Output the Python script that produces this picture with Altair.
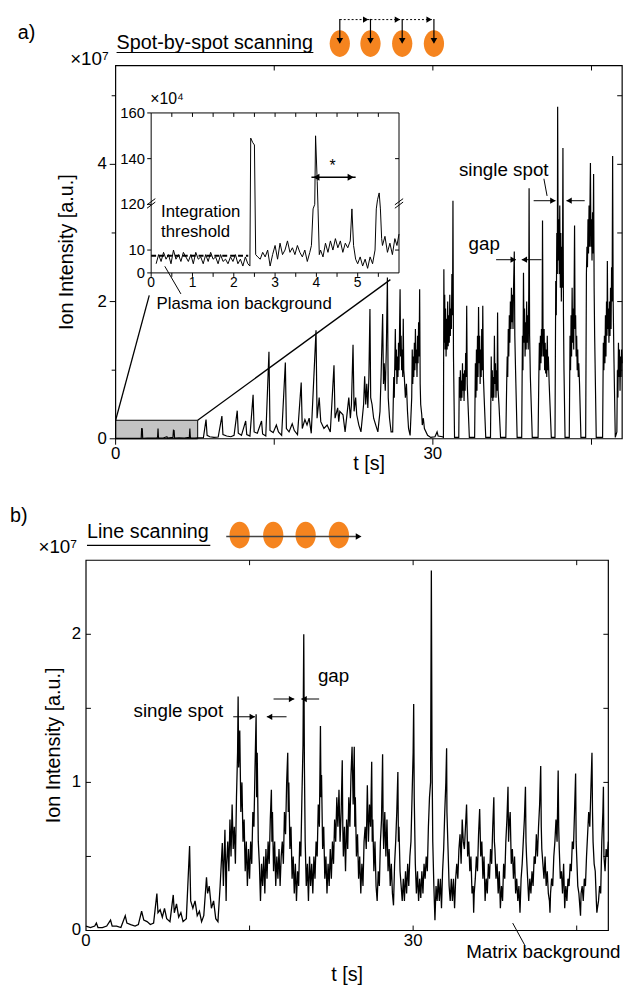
import altair as alt
import pandas as pd

FONT = "Liberation Sans"

# ---------------- data: panel a) spot-by-spot trace (t [s], intensity [x1e7 a.u.]) ----------------
a_gray = [(0, 0.005), (0.5, 0.006), (1.0, 0.005), (1.5, 0.006), (2.0, 0.005), (2.42, 0.006), (2.46, 0.148),
          (2.52, 0.146), (2.56, 0.01), (2.6, 0.008), (3.0, 0.009), (3.5, 0.01), (3.92, 0.012), (3.97, 0.03),
          (4.01, 0.15), (4.05, 0.02), (4.1, 0.009), (4.5, 0.011), (4.85, 0.03), (4.9, 0.01), (5.42, 0.02),
          (5.47, 0.125), (5.53, 0.12), (5.57, 0.02), (5.62, 0.01), (6.0, 0.012), (6.5, 0.011), (6.97, 0.02),
          (7.02, 0.15), (7.06, 0.03), (7.1, 0.012), (7.5, 0.01)]
a_early = [(7.76, 0.012), (8.3, 0.015), (8.55, 0.28), (8.65, 0.05), (8.9, 0.03), (9.3, 0.02), (9.7, 0.025),
           (10.05, 0.33), (10.15, 0.06), (10.5, 0.04), (10.9, 0.03), (11.2, 0.05), (11.5, 0.41), (11.6, 0.08),
           (11.9, 0.05), (12.3, 0.26), (12.4, 0.06), (12.7, 0.04), (13.0, 0.64), (13.1, 0.1), (13.4, 0.08),
           (13.8, 0.26), (13.9, 0.07), (14.2, 0.04), (14.5, 1.27), (14.6, 0.12), (14.9, 0.09), (15.2, 0.2),
           (15.4, 0.1), (15.7, 0.05), (16.05, 1.11), (16.15, 0.15), (16.4, 0.1), (16.7, 0.22), (16.9, 0.12),
           (17.2, 0.06), (17.55, 0.82), (17.65, 0.15), (17.9, 0.28), (18.1, 0.2), (18.3, 0.3), (18.5, 0.08),
           (18.95, 1.58), (19.05, 0.3), (19.25, 0.6), (19.4, 0.25), (19.7, 0.15), (20.0, 0.2), (20.3, 0.1),
           (20.65, 1.07), (20.75, 0.3), (21.0, 0.45), (21.1, 0.25), (21.2, 0.4), (21.5, 0.35), (21.7, 0.1),
           (22.05, 0.6), (22.2, 0.3), (22.3, 0.5), (22.45, 1.37), (22.55, 0.4), (22.7, 0.6), (22.8, 0.35),
           (23.0, 0.2), (23.2, 0.1), (23.45, 0.5), (23.55, 0.91), (23.65, 0.5), (23.75, 0.8), (23.85, 0.45),
           (23.95, 0.9), (24.05, 1.89), (24.12, 0.6), (24.25, 0.5), (24.4, 0.3), (24.6, 0.2), (24.8, 0.1),
           (25.0, 0.4), (25.1, 0.9), (25.25, 1.82), (25.33, 0.8), (25.4, 1.1), (25.5, 0.7), (25.6, 1.3),
           (25.7, 2.35), (25.78, 0.6), (25.9, 0.3), (26.05, 0.1), (26.2, 0.1), (26.3, 0.9), (26.35, 0.6),
           (26.45, 1.6), (26.5, 1.0), (26.55, 1.3), (26.6, 0.8), (26.65, 1.2), (26.7, 0.9), (26.75, 1.4),
           (26.8, 1.0), (26.85, 1.6), (26.9, 2.18), (26.95, 1.2), (27.0, 1.5), (27.05, 1.0), (27.1, 1.3),
           (27.15, 0.9), (27.2, 1.75), (27.25, 1.0), (27.3, 0.9), (27.4, 0.6), (27.5, 0.8), (27.6, 0.4),
           (27.7, 0.15), (27.85, 0.05), (28.0, 0.6), (28.05, 1.3), (28.1, 0.8), (28.15, 1.2), (28.2, 0.9),
           (28.25, 1.4), (28.3, 1.0), (28.35, 1.6), (28.4, 1.1), (28.45, 1.3), (28.5, 0.9), (28.55, 1.5),
           (28.6, 1.1), (28.65, 1.7), (28.7, 1.2), (28.75, 2.18), (28.8, 0.8), (28.85, 0.5), (28.95, 0.35),
           (29.0, 0.2), (29.1, 0.3), (29.2, 0.15), (29.5, 0.05), (29.8, 0.02), (30.2, 0.03), (30.4, 0.1),
           (30.5, 0.04), (30.9, 0.03)]
a_spots = [(31.0, 0.02), (31.04, 2.47), (31.08, 1.4), (31.12, 2.1), (31.16, 1.3), (31.2, 1.9), (31.25, 1.2),
           (31.3, 1.75), (31.35, 1.3), (31.4, 2.0), (31.45, 1.35), (31.5, 1.8), (31.55, 1.4), (31.6, 2.1),
           (31.65, 1.5), (31.7, 1.9), (31.75, 1.6), (31.8, 2.4), (31.86, 1.8), (31.9, 3.47), (31.95, 1.2),
           (32.05, 0.02), (32.45, 0.02), (32.5, 0.9), (32.55, 0.6), (32.6, 1.0), (32.65, 0.55), (32.7, 0.85),
           (32.75, 0.6), (32.8, 1.1), (32.85, 0.7), (32.9, 0.95), (32.95, 0.55), (33.0, 1.0), (33.05, 0.7),
           (33.1, 1.25), (33.15, 0.9), (33.2, 1.94), (33.25, 0.8), (33.3, 0.6), (33.45, 0.02), (33.95, 0.02),
           (34.02, 1.1), (34.07, 0.6), (34.12, 1.3), (34.17, 0.7), (34.22, 1.5), (34.27, 0.9), (34.32, 1.92),
           (34.37, 1.1), (34.42, 1.5), (34.47, 0.8), (34.52, 1.3), (34.57, 0.9), (34.62, 1.6), (34.67, 1.0),
           (34.72, 1.94), (34.78, 0.9), (34.85, 0.6), (35.0, 0.02), (35.45, 0.02), (35.52, 1.2), (35.57, 0.6),
           (35.62, 1.0), (35.67, 0.55), (35.72, 0.9), (35.77, 0.6), (35.82, 1.5), (35.87, 0.8), (35.92, 1.1),
           (35.97, 0.6), (36.02, 1.0), (36.07, 0.7), (36.12, 1.84), (36.17, 0.7), (36.25, 0.5), (36.4, 0.02),
           (36.9, 0.02), (36.98, 0.8), (37.03, 1.2), (37.08, 0.9), (37.13, 1.6), (37.18, 1.2), (37.23, 1.8),
           (37.28, 1.4), (37.33, 2.0), (37.38, 1.6), (37.43, 2.2), (37.48, 1.7), (37.53, 2.1), (37.58, 1.6),
           (37.63, 2.2), (37.7, 2.73), (37.75, 1.5), (37.82, 1.0), (37.97, 0.02), (38.4, 0.02), (38.47, 1.5),
           (38.52, 1.0), (38.57, 2.42), (38.62, 1.4), (38.67, 1.9), (38.72, 1.2), (38.77, 1.7), (38.82, 1.3),
           (38.87, 2.0), (38.92, 1.4), (38.97, 1.8), (39.02, 1.3), (39.07, 2.2), (39.1, 3.65), (39.15, 1.5),
           (39.22, 0.9), (39.4, 0.02), (39.95, 0.02), (40.02, 0.9), (40.07, 1.4), (40.12, 1.0), (40.17, 1.5),
           (40.22, 1.1), (40.27, 1.6), (40.32, 1.2), (40.37, 3.18), (40.42, 1.5), (40.47, 1.2), (40.52, 1.6),
           (40.57, 1.0), (40.62, 1.4), (40.67, 0.95), (40.72, 1.3), (40.77, 0.9), (40.82, 1.5), (40.87, 1.0),
           (40.92, 1.2), (41.0, 0.8), (41.2, 0.02), (41.55, 0.02), (41.62, 2.3), (41.67, 1.8), (41.72, 3.0),
           (41.77, 2.4), (41.8, 4.84), (41.85, 2.6), (41.9, 3.2), (41.95, 2.4), (42.0, 3.4), (42.05, 2.2),
           (42.1, 3.0), (42.15, 2.0), (42.2, 2.8), (42.25, 2.2), (42.3, 4.24), (42.35, 1.8), (42.4, 1.0),
           (42.5, 0.02), (42.9, 0.02), (42.97, 1.5), (43.02, 1.0), (43.07, 1.8), (43.12, 1.2), (43.17, 2.2),
           (43.22, 1.4), (43.27, 1.9), (43.32, 1.3), (43.4, 3.11), (43.45, 1.6), (43.5, 1.8), (43.55, 1.2),
           (43.6, 1.5), (43.65, 1.0), (43.7, 1.3), (43.75, 0.9), (43.8, 1.1), (43.87, 0.8), (44.0, 0.02),
           (44.45, 0.02), (44.52, 2.4), (44.57, 2.8), (44.62, 2.5), (44.67, 3.2), (44.72, 2.7), (44.77, 3.4),
           (44.82, 2.8), (44.87, 3.6), (44.9, 4.02), (44.95, 2.8), (45.0, 3.2), (45.05, 2.6), (45.1, 3.3),
           (45.15, 2.7), (45.2, 3.86), (45.25, 2.2), (45.3, 1.5), (45.45, 0.02), (46.05, 0.02), (46.12, 1.4),
           (46.17, 1.0), (46.22, 1.5), (46.27, 1.1), (46.32, 1.8), (46.37, 1.2), (46.42, 2.0), (46.47, 1.5),
           (46.5, 2.59), (46.55, 1.6), (46.6, 1.9), (46.65, 1.4), (46.7, 2.0), (46.75, 1.5), (46.8, 2.2),
           (46.85, 1.6), (46.9, 2.5), (46.95, 2.0), (47.0, 4.12), (47.05, 2.0), (47.12, 1.2), (47.25, 0.02),
           (47.4, 0.1), (47.45, 1.0), (47.5, 0.6), (47.55, 1.4), (47.6, 0.9), (47.65, 1.3), (47.7, 0.7),
           (47.75, 1.2), (47.8, 0.9), (47.85, 1.3), (47.9, 1.1)]

# ---------------- inset: first seconds (t [s], intensity [x1e4 a.u.]) ----------------
inset_trace = [(0.12, 4), (0.18, 8), (0.24, 5), (0.3, 9), (0.36, 6), (0.42, 8), (0.48, 4), (0.54, 10), (0.6, 6),
               (0.66, 8), (0.72, 5), (0.78, 9), (0.84, 7), (0.9, 5), (0.96, 8), (1.02, 4), (1.08, 9), (1.14, 6),
               (1.2, 7), (1.26, 4), (1.32, 8), (1.38, 5), (1.44, 9), (1.5, 6), (1.56, 7), (1.62, 4), (1.68, 8),
               (1.74, 5), (1.8, 6), (1.86, 4), (1.92, 7), (1.98, 5), (2.04, 8), (2.1, 4), (2.16, 6), (2.22, 3),
               (2.28, 7), (2.34, 4), (2.39, 3), (2.41, 149), (2.46, 147), (2.5, 146), (2.53, 8), (2.58, 7),
               (2.64, 6), (2.7, 9), (2.76, 7), (2.82, 10), (2.88, 3), (2.94, 8), (3.0, 12), (3.06, 6), (3.12, 13),
               (3.18, 8), (3.24, 10), (3.3, 14), (3.36, 9), (3.42, 11), (3.48, 8), (3.54, 12), (3.6, 9), (3.66, 7),
               (3.72, 10), (3.78, 5), (3.84, 9), (3.88, 12), (3.92, 28), (3.96, 30), (3.98, 150), (4.02, 130),
               (4.04, 28), (4.07, 8), (4.1, 10), (4.16, 7), (4.22, 13), (4.28, 9), (4.34, 14), (4.4, 10),
               (4.46, 15), (4.52, 11), (4.58, 14), (4.64, 9), (4.7, 13), (4.76, 11), (4.82, 14), (4.86, 28),
               (4.9, 12), (4.95, 6), (5.0, 4), (5.06, 7), (5.12, 3), (5.18, 6), (5.24, 2), (5.3, 7), (5.36, 4),
               (5.42, 10), (5.45, 28), (5.48, 122), (5.52, 125), (5.55, 28), (5.58, 15), (5.6, 12), (5.66, 16),
               (5.72, 9), (5.78, 13), (5.84, 8), (5.9, 15), (5.95, 12), (6.0, 17)]

# ---------------- panel b) line scanning trace (t [s], intensity [x1e7 a.u.]) ----------------
b_start = [(0.0, 0.03), (0.4, 0.02), (0.8, 0.03), (0.95, 0.05), (1.1, 0.02), (1.5, 0.02), (1.9, 0.03),
           (2.25, 0.07), (2.4, 0.03), (2.8, 0.03), (3.2, 0.02), (3.6, 0.1), (3.75, 0.05), (4.1, 0.04),
           (4.5, 0.03), (4.8, 0.04), (5.1, 0.13), (5.3, 0.07), (5.6, 0.06), (5.9, 0.04), (6.2, 0.05),
           (6.5, 0.25), (6.6, 0.12), (6.8, 0.14), (7.0, 0.09), (7.2, 0.15), (7.4, 0.08), (7.7, 0.06),
           (8.0, 0.24), (8.1, 0.12), (8.3, 0.18), (8.5, 0.09), (8.7, 0.12), (8.9, 0.06), (9.2, 0.08),
           (9.5, 0.57), (9.6, 0.2), (9.8, 0.15), (10.0, 0.2), (10.2, 0.1), (10.4, 0.13), (10.6, 0.06),
           (10.8, 0.1), (11.05, 0.36), (11.15, 0.25), (11.3, 0.3), (11.5, 0.15), (11.7, 0.2), (11.9, 0.08),
           (12.1, 0.06), (12.3, 0.3), (12.5, 0.59), (12.6, 0.3), (12.74, 0.68), (12.85, 0.2)]
b_dense = [(12.9, 0.45), (13.0, 0.6), (13.1, 0.4), (13.2, 0.75), (13.3, 0.5), (13.4, 0.85), (13.5, 0.55),
           (13.6, 0.7), (13.7, 0.45), (13.8, 0.9), (13.9, 1.2), (13.95, 1.58), (14.0, 1.1), (14.1, 1.35),
           (14.2, 0.8), (14.3, 1.0), (14.4, 0.6), (14.5, 0.75), (14.6, 0.4), (14.7, 0.6), (14.8, 0.3),
           (14.9, 0.55), (15.0, 0.35), (15.1, 0.6), (15.2, 0.45), (15.3, 0.8), (15.4, 0.7), (15.5, 1.1),
           (15.6, 1.46), (15.65, 0.9), (15.7, 1.2), (15.8, 0.6), (15.9, 0.45), (16.0, 0.2), (16.1, 0.45),
           (16.2, 0.3), (16.3, 0.5), (16.4, 0.25), (16.5, 0.55), (16.6, 0.35), (16.7, 0.6), (16.8, 0.45),
           (16.9, 0.75), (17.0, 0.95), (17.05, 0.6), (17.1, 0.8), (17.2, 0.4), (17.3, 0.6), (17.4, 0.3),
           (17.5, 0.5), (17.6, 0.35), (17.7, 0.55), (17.8, 0.3), (17.9, 0.5), (18.0, 0.6), (18.1, 0.45),
           (18.2, 0.8), (18.3, 0.65), (18.4, 1.0), (18.5, 1.2), (18.55, 0.8), (18.6, 1.0), (18.7, 0.55),
           (18.8, 0.7), (18.9, 0.35), (19.0, 0.5), (19.1, 0.25), (19.2, 0.45), (19.3, 0.2), (19.4, 0.4),
           (19.5, 0.3), (19.6, 0.6), (19.7, 0.5), (19.8, 0.9), (19.9, 1.25), (19.97, 2.0), (20.03, 1.1),
           (20.1, 0.6), (20.2, 0.3), (20.3, 0.45), (20.4, 0.2), (20.5, 0.5), (20.6, 0.3), (20.7, 0.45),
           (20.8, 0.25), (20.9, 0.5), (21.0, 0.35), (21.1, 0.6), (21.2, 0.5), (21.3, 0.85), (21.4, 0.7),
           (21.5, 1.38), (21.55, 0.9), (21.6, 1.05), (21.7, 0.55), (21.8, 0.7), (21.9, 0.35), (22.0, 0.5),
           (22.1, 0.25), (22.2, 0.45), (22.3, 0.3), (22.4, 0.55), (22.5, 0.35), (22.6, 0.6), (22.7, 0.45),
           (22.8, 0.75), (22.9, 0.6), (23.0, 0.9), (23.1, 0.7), (23.2, 0.95), (23.3, 0.6), (23.4, 0.8),
           (23.5, 1.15), (23.55, 0.7), (23.6, 0.5), (23.7, 0.7), (23.8, 0.4), (23.9, 0.75), (24.0, 0.55),
           (24.1, 0.9), (24.2, 0.7), (24.3, 1.05), (24.4, 1.24), (24.5, 0.85), (24.6, 1.24), (24.65, 0.7),
           (24.7, 0.9), (24.8, 0.5), (24.9, 0.65), (25.0, 0.35), (25.1, 0.5), (25.2, 0.25), (25.3, 0.45),
           (25.4, 0.3), (25.5, 0.6), (25.6, 0.7), (25.7, 0.55), (25.8, 0.98), (25.9, 0.6), (26.0, 0.85),
           (26.1, 0.7), (26.2, 1.14), (26.25, 0.6), (26.3, 0.75), (26.4, 0.4), (26.5, 0.6), (26.6, 0.3),
           (26.7, 0.2), (26.8, 0.4), (26.9, 0.3), (27.0, 0.6), (27.1, 0.75), (27.2, 1.19), (27.25, 0.7),
           (27.3, 0.55), (27.4, 0.8), (27.5, 0.5), (27.6, 0.75), (27.7, 0.4), (27.8, 0.55), (27.9, 0.3),
           (28.0, 0.45), (28.1, 0.25), (28.2, 0.17), (28.3, 0.45), (28.4, 0.6), (28.5, 0.8), (28.6, 1.07),
           (28.65, 0.6), (28.7, 0.7), (28.8, 0.4), (28.9, 0.3), (29.0, 0.2), (29.1, 0.35), (29.2, 0.2),
           (29.3, 0.4), (29.4, 0.25), (29.5, 0.45), (29.6, 0.3), (29.7, 0.5), (29.8, 0.6), (29.9, 0.9),
           (30.0, 1.2), (30.05, 1.53), (30.1, 0.9), (30.2, 0.45), (30.3, 0.25), (30.4, 0.4), (30.5, 0.2),
           (30.6, 0.35), (30.7, 0.22), (30.8, 0.4), (30.9, 0.25), (31.0, 0.45), (31.1, 0.35), (31.2, 0.5),
           (31.3, 0.4), (31.4, 0.7), (31.5, 0.9), (31.6, 1.0), (31.67, 2.43), (31.73, 1.2), (31.8, 0.6),
           (31.9, 0.3), (32.0, 0.07), (32.1, 0.3), (32.2, 0.2), (32.3, 0.35), (32.4, 0.2), (32.5, 0.35),
           (32.6, 0.15), (32.7, 0.4), (32.8, 0.55), (32.9, 0.8), (33.0, 1.0), (33.07, 1.23), (33.1, 0.8),
           (33.2, 0.55), (33.3, 0.3), (33.4, 0.2), (33.5, 0.35), (33.6, 0.2), (33.7, 0.35), (33.8, 0.15),
           (33.9, 0.35), (34.0, 0.45), (34.1, 0.35), (34.2, 0.55), (34.3, 0.65), (34.4, 0.45), (34.5, 0.75),
           (34.6, 0.6), (34.7, 0.55), (34.8, 0.7), (34.9, 0.85), (35.0, 0.5), (35.1, 0.6), (35.2, 0.4),
           (35.3, 0.5), (35.4, 0.25), (35.5, 0.3), (35.55, 0.12), (35.6, 0.25), (35.7, 0.35), (35.8, 0.5),
           (35.9, 0.4), (36.0, 0.65), (36.1, 0.82), (36.2, 0.5), (36.3, 0.6), (36.4, 0.35), (36.5, 0.5),
           (36.6, 0.2), (36.7, 0.35), (36.8, 0.25), (36.9, 0.45), (37.0, 0.35), (37.1, 0.55), (37.2, 0.45),
           (37.3, 0.7), (37.4, 0.9), (37.45, 0.6), (37.5, 0.55), (37.6, 0.35), (37.7, 0.45), (37.8, 0.25),
           (37.9, 0.4), (38.0, 0.15), (38.1, 0.3), (38.2, 0.2), (38.3, 0.45), (38.4, 0.35), (38.5, 0.6),
           (38.6, 0.75), (38.7, 0.97), (38.75, 0.6), (38.8, 0.7), (38.9, 0.8), (39.0, 0.45), (39.1, 0.55),
           (39.2, 0.35), (39.3, 0.5), (39.4, 0.25), (39.5, 0.35), (39.6, 0.2), (39.7, 0.3), (39.8, 0.12),
           (39.9, 0.35), (40.0, 0.45), (40.1, 0.6), (40.2, 0.75), (40.3, 0.97), (40.35, 0.6), (40.4, 0.5),
           (40.5, 0.35), (40.6, 0.2), (40.7, 0.35), (40.8, 0.25), (40.9, 0.4), (41.0, 0.3), (41.1, 0.5),
           (41.2, 0.45), (41.3, 0.65), (41.4, 0.5), (41.5, 0.7), (41.6, 0.85), (41.7, 1.11), (41.75, 0.7),
           (41.8, 0.55), (41.9, 0.45), (42.0, 0.35), (42.1, 0.5), (42.2, 0.3), (42.3, 0.4), (42.4, 0.25),
           (42.5, 0.2), (42.55, 0.12), (42.6, 0.25), (42.7, 0.35), (42.8, 0.3), (42.9, 0.5), (43.0, 0.6),
           (43.1, 0.75), (43.2, 0.6), (43.3, 1.08), (43.35, 0.7), (43.4, 0.55), (43.5, 0.35), (43.6, 0.4),
           (43.7, 0.25), (43.8, 0.45), (43.9, 0.15), (44.0, 0.3), (44.1, 0.2), (44.2, 0.35), (44.3, 0.3),
           (44.4, 0.45), (44.5, 0.4), (44.6, 0.6), (44.7, 0.55), (44.8, 0.8), (44.9, 1.06), (44.95, 0.6),
           (45.0, 0.5), (45.1, 0.3), (45.2, 0.25), (45.3, 0.15), (45.35, 0.1), (45.4, 0.25), (45.5, 0.3),
           (45.6, 0.2), (45.7, 0.35), (45.8, 0.3), (45.9, 0.5), (46.0, 0.65), (46.1, 0.8), (46.2, 0.7),
           (46.3, 0.95), (46.4, 1.2), (46.45, 0.8), (46.5, 0.6), (46.6, 0.45), (46.7, 0.4), (46.8, 0.2),
           (46.85, 0.12), (46.9, 0.15), (47.0, 0.2), (47.1, 0.3), (47.2, 0.25), (47.3, 0.6), (47.4, 0.8),
           (47.45, 0.97), (47.5, 0.5), (47.6, 0.4), (47.7, 0.55), (47.8, 0.5), (47.9, 0.6)]

x_major = [0, 15, 30, 45]
x_labels = [0, 30]
a_y_labels = [0, 2, 4]
a_y_minor = [1, 3, 5]
b_y_labels = [0, 1, 2]
b_y_ticks = [0.5, 1, 1.5, 2]
inset_x_labels = [0, 1, 2, 3, 4, 5]
inset_x_ticks = [0, 0.5, 1, 1.5, 2, 2.5, 3, 3.5, 4, 4.5, 5, 5.5]
inset_y_disp = [0, 10, 30, 50, 70]          # display positions (axis broken between 30 and 120)
inset_y_text = ["0", "10", "120", "140", "160"]

ORANGE = "#f5841f"
ELLIPSE = "M-0.76,0A0.76,1,0,1,1,0.76,0A0.76,1,0,1,1,-0.76,0Z"

# ---------------- scales (explicit pixel ranges inside one 543x876 plot group) ----------------
XA = alt.Scale(domain=[0, 47.9], range=[30, 543], nice=False, zero=False)
YA = alt.Scale(domain=[0, 5.44], range=[378, 0], nice=False, zero=False)
XI = alt.Scale(domain=[0, 6], range=[66, 317], nice=False, zero=False)
YI = alt.Scale(domain=[0, 70], range=[210, 48], nice=False, zero=False)
XB = alt.Scale(domain=[0, 47.9], range=[0, 529], nice=False, zero=False)
YB = alt.Scale(domain=[0, 2.5], range=[876, 501], nice=False, zero=False)


def _xy(xs, ys, xf="x", yf="y"):
    return dict(x=alt.X(f"{xf}:Q", scale=xs, axis=None), y=alt.Y(f"{yf}:Q", scale=ys, axis=None))


def segs(rows, xs, ys, color="black", width=1.0, dash=None):
    mk = dict(color=color, strokeWidth=width)
    if dash is not None:
        mk["strokeDash"] = dash
    return alt.Chart(pd.DataFrame(rows, columns=["x", "y", "x2", "y2"])).mark_rule(**mk).encode(
        x2="x2:Q", y2="y2:Q", **_xy(xs, ys))


def texts(rows, xs, ys, size, align="left", angle=0):
    return alt.Chart(pd.DataFrame(rows, columns=["x", "y", "label"])).mark_text(
        font=FONT, fontSize=size, align=align, baseline="middle", color="black", angle=angle).encode(
        text="label:N", **_xy(xs, ys))


def heads(rows, xs, ys, size=40):
    return alt.Chart(pd.DataFrame(rows, columns=["x", "y", "shape"])).mark_point(
        filled=True, color="black", opacity=1, size=size, strokeWidth=0).encode(
        shape=alt.Shape("shape:N", scale=None), **_xy(xs, ys))


def rect(rows, xs, ys, **mk):
    return alt.Chart(pd.DataFrame(rows, columns=["x", "y", "x2", "y2"])).mark_rect(**mk).encode(
        x2="x2:Q", y2="y2:Q", **_xy(xs, ys))


def ellipses(ts, v, xs, ys):
    return alt.Chart(pd.DataFrame({"x": ts, "y": [v] * len(ts)})).mark_point(
        shape=ELLIPSE, filled=True, color=ORANGE, opacity=1, size=729, strokeWidth=0).encode(**_xy(xs, ys))


def trace(rows, xs, ys, width=1.0):
    return alt.Chart(pd.DataFrame(rows, columns=["x", "y"])).mark_line(
        color="black", strokeWidth=width).encode(**_xy(xs, ys))


# ================= panel a) =================
dxA, dyA = 1 / 10.7, 1 / 69.5
a_group = alt.layer(
    rect([(0, 0, 7.76, 0.27)], XA, YA, fill="#c4c4c4", stroke="black", strokeWidth=1),
    trace(a_gray + a_early + a_spots, XA, YA, width=1.2),
    segs([(0, 0.27, 3.18, 2.09), (7.76, 0.27, 25.98, 2.32)], XA, YA, width=1.3),
    rect([(0, 0, 47.9, 5.44)], XA, YA, fillOpacity=0, stroke="black", strokeWidth=1.2),
    # ticks: bottom/left outward, top/right inward
    segs([(t, 0, t, -6 * dyA) for t in x_major]
         + [(-6 * dxA, v, 0, v) for v in a_y_labels]
         + [(-4 * dxA, v, 0, v) for v in a_y_minor]
         + [(t, 5.44, t, 5.44 - 5 * dyA) for t in x_major[1:]]
         + [(47.9 - 5 * dxA, v, 47.9, v) for v in [1, 2, 3, 4, 5]], XA, YA),
    # tick labels and titles
    texts([(t, -0.22, str(t)) for t in x_labels], XA, YA, 17, align="center"),
    texts([(-0.84, v, str(v)) for v in a_y_labels], XA, YA, 17, align="right"),
    texts([(23.97, -0.37, "t [s]")], XA, YA, 20, align="center"),
    texts([(-4.58, 2.72, "Ion Intensity [a.u.]")], XA, YA, 20, align="center", angle=270),
    # annotations
    texts([(36.7, 3.92, "single spot"), (34.86, 2.84, "gap")], XA, YA, 19, align="center"),
    segs([(40.5, 3.79, 40.8, 3.54),
          (39.53, 3.47, 41.59, 3.47), (44.36, 3.47, 42.64, 3.47),
          (35.98, 2.61, 37.85, 2.61), (40.28, 2.61, 38.41, 2.61)], XA, YA),
    heads([(41.35, 3.47, "triangle-right"), (42.88, 3.47, "triangle-left"),
           (37.6, 2.61, "triangle-right"), (38.65, 2.61, "triangle-left")], XA, YA),
    # header
    texts([(-9.25, 5.91, "a)"), (0.09, 5.77, "Spot-by-spot scanning")], XA, YA, 20),
    texts([(-0.65, 5.53, "×10⁷")], XA, YA, 19, align="right"),
    segs([(0.09, 5.63, 18.7, 5.63)], XA, YA, width=1.2),
    ellipses([21.2, 24.1, 27.1, 30.1], 5.76, XA, YA),
    segs([(t, 6.12, t, 5.78) for t in [21.2, 24.1, 27.1, 30.1]], XA, YA, width=1.2),
    heads([(t, 5.80, "triangle-down") for t in [21.2, 24.1, 27.1, 30.1]], XA, YA, size=45),
    segs([(21.2, 6.11, 24.1, 6.11), (24.1, 6.11, 27.1, 6.11), (27.1, 6.11, 30.1, 6.11)], XA, YA,
         dash=[2, 2]),
    heads([(t - 0.45, 6.11, "triangle-right") for t in [24.1, 27.1, 30.1]], XA, YA, size=40),
)

# ================= inset =================
dxI, dyI = 1 / 41.83, 1 / 2.314
in_line = alt.Chart(pd.DataFrame(inset_trace, columns=["t", "v"])).transform_calculate(
    d="datum.v <= 30 ? datum.v : datum.v - 90"
).mark_line(color="black", strokeWidth=1).encode(**_xy(XI, YI, "t", "d"))
in_group = alt.layer(
    rect([(0, 0, 6, 70)], XI, YI, fill="white", stroke="black", strokeWidth=1),
    segs([(0, 7.5, 2.35, 7.5)], XI, YI, width=2, dash=[5, 3]),
    in_line,
    segs([(t, 0, t, -4 * dyI) for t in inset_x_ticks]
         + [(-4 * dxI, d, 0, d) for d in inset_y_disp]
         + [(t, 70, t, 70 - 4 * dyI) for t in inset_x_ticks[1:]]
         + [(6 - 4 * dxI, d, 6, d) for d in [10, 50]], XI, YI),
    segs([(-0.1, 28.3, 0.1, 31.0), (-0.1, 29.8, 0.1, 32.5),
          (5.9, 28.3, 6.1, 31.0), (5.9, 29.8, 6.1, 32.5)], XI, YI),
    texts([(t, -4.5, str(t)) for t in inset_x_labels], XI, YI, 14, align="center"),
    texts([(-0.15, d, s) for d, s in zip(inset_y_disp, inset_y_text)], XI, YI, 15, align="right"),
    texts([(0.24, 26.6, "Integration"), (0.24, 17.9, "threshold")], XI, YI, 17),
    texts([(0.13, -13.6, "Plasma ion background")], XI, YI, 17),
    texts([(-0.02, 76, "×10⁴")], XI, YI, 16),
    texts([(4.39, 46.9, "*")], XI, YI, 16, align="center"),
    segs([(0.72, -9.2, 0.33, 2.9)], XI, YI),
    segs([(3.88, 41.9, 4.95, 41.9)], XI, YI, width=1.5),
    heads([(4.0, 41.9, "triangle-left"), (4.83, 41.9, "triangle-right")], XI, YI, size=50),
)

# ================= panel b) =================
dxB, dyB = 1 / 11.04, 1 / 150
b_group = alt.layer(
    trace(b_start + b_dense, XB, YB, width=1.3),
    rect([(0, 0, 47.9, 2.5)], XB, YB, fillOpacity=0, stroke="black", strokeWidth=1.2),
    segs([(0, v, 5 * dxB, v) for v in b_y_ticks]
         + [(47.9 - 5 * dxB, v, 47.9, v) for v in b_y_ticks]
         + [(t, 0, t, 5 * dyB) for t in x_major[1:]]
         + [(t, 2.5, t, 2.5 - 5 * dyB) for t in x_major[1:]], XB, YB),
    texts([(t, -0.07, str(t)) for t in x_labels], XB, YB, 17, align="center"),
    texts([(-0.45, v, str(v)) for v in b_y_labels], XB, YB, 17, align="right"),
    texts([(23.95, -0.303, "t [s]")], XB, YB, 20, align="center"),
    texts([(-2.9, 1.25, "Ion Intensity [a.u.]")], XB, YB, 20, align="center", angle=270),
    texts([(8.47, 1.48, "single spot"), (22.7, 1.72, "gap")], XB, YB, 19, align="center"),
    texts([(34.87, -0.143, "Matrix background")], XB, YB, 19),
    segs([(13.5, 1.443, 15.5, 1.443), (18.39, 1.443, 16.58, 1.443),
          (17.2, 1.563, 19.1, 1.563), (21.38, 1.563, 19.75, 1.563),
          (39.13, 0.05, 40.22, -0.097)], XB, YB),
    heads([(15.25, 1.443, "triangle-right"), (16.83, 1.443, "triangle-left"),
           (18.85, 1.563, "triangle-right"), (20.0, 1.563, "triangle-left")], XB, YB),
    # header
    texts([(-6.97, 2.80, "b)"), (0.09, 2.69, "Line scanning")], XB, YB, 20),
    texts([(-0.82, 2.59, "×10⁷")], XB, YB, 19, align="right"),
    segs([(0.09, 2.60, 11.4, 2.60)], XB, YB, width=1.2),
    ellipses([14.09, 17.17, 20.14, 23.19], 2.67, XB, YB),
    segs([(12.86, 2.66, 25.0, 2.66)], XB, YB, color="#444444", width=1.5),
    heads([(25.0, 2.66, "triangle-right")], XB, YB, size=45),
)

chart = alt.layer(a_group, in_group, b_group).resolve_scale(
    x="independent", y="independent"
).properties(
    width=543, height=876,
    autosize=alt.AutoSizeParams(type="none"),
    padding={"left": 79, "top": 52, "right": 12, "bottom": 56},
).configure_view(stroke=None)

chart.save("out.html", embed_options={"renderer": "svg", "actions": False})
